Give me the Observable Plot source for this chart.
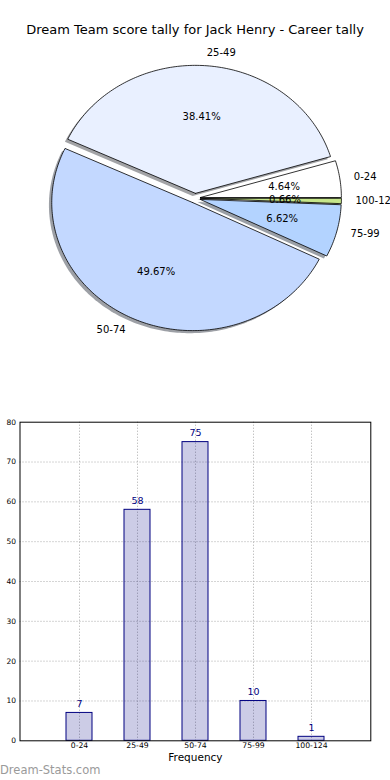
<!DOCTYPE html>
<html>
<head>
<meta charset="utf-8">
<script src="https://cdn.jsdelivr.net/npm/d3@7"></script>
<script src="https://cdn.jsdelivr.net/npm/@observablehq/plot@0.6"></script>
<style>
  html, body { margin: 0; padding: 0; background: #fff; overflow: hidden; width: 390px; }
  svg { display: block; }
  #title { height: 45px; box-sizing: border-box; padding-top: 22px; text-align: center;
           font: 13px "DejaVu Sans", sans-serif; color: #000; line-height: 16px; white-space: nowrap; }
  #caption { height: 15px; font: 11.5px "DejaVu Sans", sans-serif; color: #9a9a9a; line-height: 11px; padding-left: 0px; }
</style>
</head>
<body>
<div id="title">Dream Team score tally for Jack Henry - Career tally</div>
<div id="pie"></div>
<div id="bars"></div>
<div id="caption">Dream-Stats.com</div>
<script>
// ---- data ----
const categories = ["0-24", "25-49", "50-74", "75-99", "100-124"];
const counts = [7, 58, 75, 10, 1];
const pieColors = ["#ffffff", "#e9f0ff", "#c3d8ff", "#b3d3ff", "#c6e68a"];
const yTicks = [0, 10, 20, 30, 40, 50, 60, 70, 80];

// ---- pie geometry (from the data) ----
const explode = 0.038, pctDistance = 0.6, labelDistance = 1.1;
const total = d3.sum(counts);
let acc = 0;
const slices = categories.map((cat, i) => {
  const a0 = acc / total * 2 * Math.PI;
  acc += counts[i];
  const a1 = acc / total * 2 * Math.PI;
  const mid = (a0 + a1) / 2;
  return {cat, value: counts[i], color: pieColors[i], a0, a1, mid,
          ox: explode * Math.cos(mid), oy: explode * Math.sin(mid),
          pct: (counts[i] / total * 100).toFixed(2) + "%"};
});
const wedgePts = [];
for (const s of slices) {
  const n = Math.max(2, Math.ceil((s.a1 - s.a0) / (Math.PI / 180)));
  wedgePts.push({key: s.cat, color: s.color, x: s.ox, y: s.oy});
  for (let k = 0; k <= n; k++) {
    const a = s.a0 + (s.a1 - s.a0) * k / n;
    wedgePts.push({key: s.cat, color: s.color, x: s.ox + Math.cos(a), y: s.oy + Math.sin(a)});
  }
  wedgePts.push({key: s.cat, color: s.color, x: s.ox, y: s.oy});
}
const shadowPts = wedgePts.map(p => {
  const c = d3.rgb(p.color);
  return {...p, x: p.x - 0.02, y: p.y - 0.02,
          color: d3.rgb(c.r * 0.3, c.g * 0.3, c.b * 0.3).formatHex()};
});
const pctLabels = slices.map(s => ({text: s.pct,
  x: s.ox + pctDistance * Math.cos(s.mid), y: s.oy + pctDistance * Math.sin(s.mid)}));
const catLabels = slices.map(s => ({text: s.cat, right: Math.cos(s.mid) > 0,
  x: s.ox + labelDistance * Math.cos(s.mid), y: s.oy + labelDistance * Math.sin(s.mid)}));

const pie = Plot.plot({
  width: 390, height: 340, margin: 0,
  style: {fontFamily: "DejaVu Sans", background: "white"},
  x: {domain: [-1.380, 1.386], axis: null},
  y: {domain: [-1.463, 1.193], axis: null},
  color: {type: "identity"},
  marks: [
    Plot.line(shadowPts, {x: "x", y: "y", z: "key", fill: "color", fillOpacity: 0.5, stroke: null, curve: "linear"}),
    Plot.line(wedgePts, {x: "x", y: "y", z: "key", fill: "color", stroke: "black", strokeWidth: 0.8, curve: "linear"}),
    Plot.text(pctLabels, {x: "x", y: "y", text: "text", fontSize: 10, fill: "black"}),
    Plot.text(catLabels.filter(d => d.right), {x: "x", y: "y", text: "text", fontSize: 10, fill: "black", textAnchor: "start"}),
    Plot.text(catLabels.filter(d => !d.right), {x: "x", y: "y", text: "text", fontSize: 10, fill: "black", textAnchor: "end"})
  ]
});
document.getElementById("pie").append(pie);

// ---- bar chart ----
const barData = categories.map((cat, i) => ({cat, value: counts[i]}));
const bars = Plot.plot({
  width: 390, height: 380,
  marginLeft: 19.5, marginRight: 19.7, marginTop: 36.7, marginBottom: 24.7,
  style: {fontFamily: "DejaVu Sans", background: "white"},
  x: {domain: categories, paddingInner: 0.56, paddingOuter: 0.78, axis: null},
  y: {domain: [0, 80], axis: null},
  marks: [
    Plot.ruleY(yTicks.slice(1, -1), {stroke: "#aaaaaa", strokeDasharray: "1,2"}),
    Plot.ruleX(categories, {x: d => d, stroke: "#aaaaaa", strokeDasharray: "1,2"}),
    Plot.barY(barData, {x: "cat", y: "value", fill: "navy", fillOpacity: 0.2, stroke: "navy", strokeWidth: 1}),
    Plot.frame({stroke: "black", strokeWidth: 1}),
    Plot.text(barData, {x: "cat", y: "value", text: d => String(d.value), dy: -9, fill: "navy", fontSize: 9.5}),
    Plot.text(yTicks, {y: d => d, text: d => String(d), frameAnchor: "left", dx: -4, textAnchor: "end", fontSize: 7.5, fill: "black"}),
    Plot.text(categories, {x: d => d, text: d => d, frameAnchor: "bottom", dy: 7.4, fontSize: 7.7, fill: "black"}),
    Plot.text(["Frequency"], {text: d => d, frameAnchor: "bottom", dy: 19.7, fontSize: 10.5, fill: "black"})
  ]
});
document.getElementById("bars").append(bars);
</script>
</body>
</html>
